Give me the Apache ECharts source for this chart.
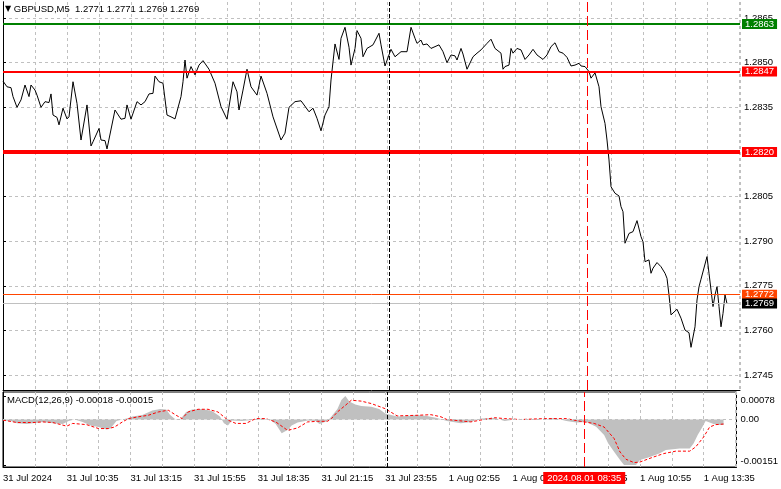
<!DOCTYPE html>
<html><head><meta charset="utf-8">
<script src="https://cdn.jsdelivr.net/npm/echarts@6/dist/echarts.min.js"></script>
<style>html,body{margin:0;padding:0;background:#fff}#c{width:781px;height:489px}</style>
</head><body><div id="c"></div>
<script>
// ---------------- data ----------------
const symbolName = 'GBPUSD,M5';
const ohlc = [1.2771, 1.2771, 1.2769, 1.2769];
const macdName = 'MACD(12,26,9)';
const macdLast = [-0.00018, -0.00015];
const timeLabels = ['31 Jul 2024','31 Jul 10:35','31 Jul 13:15','31 Jul 15:55','31 Jul 18:35','31 Jul 21:15','31 Jul 23:55','1 Aug 02:55','1 Aug 05:35','1 Aug 08:15','1 Aug 10:55','1 Aug 13:35'];
const priceTicks = [1.2745,1.2760,1.2775,1.2790,1.2805,1.2820,1.2835,1.2850,1.2865];
const macdTicks = [-0.00151, 0, 0.00078];
const levelValues = [1.2863, 1.2847, 1.2820, 1.2772, 1.2769];
const daySeparatorBar = 193;
const cursorBar = 292;
const cursorLabel = '2024.08.01 08:35';
// [bar index, close]
const closePrice = [
[0,1.28438],[2,1.28419],[4,1.28416],[5,1.28386],[7,1.28350],[9,1.28375],[11,1.28425],[13,1.28386],[14,1.28425],[16,1.28408],
[17,1.28391],[18,1.28395],[19,1.28350],[21,1.28369],[23,1.28366],[24,1.28395],[25,1.28324],[27,1.28316],[28,1.28291],[30,1.28347],
[32,1.28311],[33,1.28318],[35,1.28436],[37,1.28363],[39,1.28240],[42,1.28358],[44,1.28220],[45,1.28234],[48,1.28279],[49,1.28240],
[51,1.28238],[52,1.28210],[56,1.28341],[59,1.28310],[61,1.28313],[62,1.28358],[64,1.28310],[67,1.28369],[69,1.28358],[71,1.28369],
[73,1.28395],[75,1.28397],[76,1.28455],[78,1.28436],[80,1.28431],[82,1.28324],[84,1.28318],[86,1.28311],[89,1.28386],[90,1.28436],
[91,1.28509],[92,1.28448],[94,1.28487],[96,1.28459],[98,1.28492],[100,1.28507],[103,1.28478],[106,1.28431],[109,1.28352],[112,1.28310],
[115,1.28436],[117,1.28402],[118,1.28341],[120,1.28408],[122,1.28478],[124,1.28419],[127,1.28391],[129,1.28455],[132,1.28397],[135,1.28318],
[139,1.28240],[141,1.28263],[143,1.28350],[146,1.28369],[149,1.28372],[153,1.28335],[155,1.28347],[157,1.28313],[159,1.28271],[161,1.28324],
[163,1.28352],[164,1.28442],[166,1.28563],[168,1.28511],[169,1.28582],[171,1.28619],[173,1.28552],[174,1.28492],[176,1.28548],[177,1.28608],
[179,1.28582],[180,1.28520],[182,1.28548],[185,1.28560],[188,1.28599],[189,1.28560],[191,1.28489],[194,1.28545],[196,1.28520],[199,1.28537],
[200,1.28532],[202,1.28537],[204,1.28619],[206,1.28582],[207,1.28565],[209,1.28576],[210,1.28560],[212,1.28563],[214,1.28548],[215,1.28543],
[218,1.28560],[220,1.28537],[222,1.28500],[224,1.28526],[226,1.28523],[227,1.28509],[229,1.28548],[230,1.28529],[232,1.28478],[235,1.28520],
[237,1.28532],[239,1.28543],[242,1.28565],[244,1.28579],[246,1.28548],[249,1.28532],[250,1.28478],[251,1.28487],[253,1.28492],[254,1.28548],
[255,1.28532],[257,1.28548],[259,1.28543],[261,1.28511],[263,1.28526],[265,1.28545],[267,1.28526],[268,1.28532],[270,1.28511],[272,1.28526],
[274,1.28554],[276,1.28567],[278,1.28537],[280,1.28532],[282,1.28518],[284,1.28489],[286,1.28492],[288,1.28498],[289,1.28489],[291,1.28487],
[293,1.28470],[294,1.28448],[296,1.28466],[298,1.28419],[299,1.28352],[301,1.28296],[302,1.28240],[303,1.28173],[304,1.28083],[305,1.28072],
[306,1.28061],[308,1.28052],[309,1.28016],[310,1.27999],[311,1.27893],[313,1.27926],[314,1.27921],[315,1.27932],[316,1.27926],[317,1.27969],
[319,1.27915],[320,1.27898],[321,1.27831],[323,1.27837],[324,1.27792],[325,1.27809],[327,1.27828],[329,1.27814],[331,1.27792],[332,1.27775],
[333,1.27719],[334,1.27652],[337,1.27671],[339,1.27641],[341,1.27601],[343,1.27592],[344,1.27543],[346,1.27612],[347,1.27702],[348,1.27747],
[349,1.27772],[350,1.27769],[352,1.27848],[353,1.27792],[355,1.27680],[356,1.27719],[357,1.27747],[358,1.27680],[359,1.27612],[360,1.27657],
[361,1.27719],[362,1.27690]
];
// [bar index, MACD main (histogram)]
const macdMain = [
[0,-0.00003],[1,-0.00005],[4,-0.00005],[7,-0.00012],[12,-0.00015],[15,-0.00012],[20,-0.00008],[25,-0.00012],[30,-0.00015],[33,-0.00005],
[36,0],[40,-0.00008],[44,-0.0002],[48,-0.00025],[52,-0.00033],[54,-0.0003],[57,-0.00005],[60,0],[63,0.00005],[65,0.0001],
[70,0.00015],[75,0.0003],[79,0.00035],[82,0.00033],[84,0.00015],[87,-0.00002],[89,0],[92,0.00025],[95,0.00033],[100,0.00035],
[105,0.00028],[109,0.0001],[111,-0.00012],[113,-0.0002],[115,-0.00003],[120,-0.00005],[125,-0.00002],[130,0.00003],[134,0],[137,-0.00015],
[140,-0.00046],[143,-0.00035],[145,-0.0002],[148,-0.0001],[153,-0.00003],[157,-0.00005],[159,-0.00015],[163,-0.00005],[165,0.0001],[168,0.00035],
[170,0.00065],[172,0.00078],[174,0.0006],[177,0.0005],[180,0.00045],[185,0.00042],[189,0.00035],[192,0.0002],[195,0.00015],[198,0.0001],
[203,0.00012],[208,0.00015],[213,0.00012],[218,0.00005],[223,-0.00005],[230,-0.00012],[235,-0.00008],[240,0.00003],[247,0.00005],[252,-0.00005],
[257,0],[263,0.00002],[272,0],[277,0.00005],[283,-0.00005],[288,-0.0001],[293,-0.00008],[298,-0.00024],[302,-0.00051],[304,-0.00079],
[307,-0.00107],[310,-0.00134],[312,-0.00151],[318,-0.00151],[320,-0.00134],[325,-0.00124],[330,-0.00112],[333,-0.00101],[340,-0.00096],[345,-0.00096],
[347,-0.00079],[349,-0.00051],[351,-0.00029],[353,-0.00005],[357,-0.00015],[360,-0.00018],[362,-0.00018]
];
// [bar index, signal]
const macdSignal = [
[0,-0.00002],[7,-0.0001],[15,-0.0001],[20,-0.00008],[25,-0.0001],[32,-0.00022],[35,-0.00013],[42,-0.00017],[48,-0.0003],[53,-0.0003],
[56,-0.00025],[60,-0.00008],[63,0.00003],[68,0.00009],[73,0.00014],[78,0.00025],[83,0.00031],[87,0.00014],[90,0.00003],[93,0.00025],
[98,0.00034],[103,0.00034],[108,0.00025],[113,-0.00002],[117,-0.00013],[122,-0.00013],[127,0.00003],[132,0.00003],[137,-0.00008],[143,-0.00036],
[148,-0.00028],[153,-0.00008],[158,-0.00006],[163,-0.00006],[165,0.00003],[168,0.00025],[172,0.00047],[175,0.00064],[180,0.00061],[185,0.00053],
[192,0.00036],[198,0.00012],[208,0.00014],[215,0.00016],[220,0.00009],[223,0],[235,-0.00008],[240,-0.00002],[247,0.00006],[252,0.00003],
[260,0],[272,0.00003],[283,0.00003],[290,-0.00006],[297,-0.00013],[302,-0.00025],[307,-0.00063],[310,-0.00108],[313,-0.00132],[317,-0.00143],
[320,-0.00141],[327,-0.00124],[332,-0.00113],[338,-0.00105],[345,-0.00105],[348,-0.00091],[352,-0.00058],[355,-0.00025],[358,-0.00017],[362,-0.00015]
];

// ---------------- chart ----------------
const F = 'Liberation Sans';
const FS = 9.5;
const gridDash = {color:'#c0c0c0', type:[3,3], width:1};
const levelStyles = [
  {line:{color:'#008000', width:2}, bg:'#008000', fg:'#fff'},
  {line:{color:'#ff0000', width:2}, bg:'#ff0000', fg:'#fff'},
  {line:{color:'#ff0000', width:4}, bg:'#ff0000', fg:'#fff'},
  {line:{color:'#ff4500', width:1}, bg:'#ff4500', fg:'#fff'},
  {line:{color:'#c0c0c0', width:1}, bg:'#000000', fg:'#fff'}
];
const levelMarks = levelValues.map((v,k)=>({
  yAxis: v,
  lineStyle: Object.assign({type:'solid'}, levelStyles[k].line),
  label: {show:true, position:'end', distance:2, formatter: v.toFixed(4),
    backgroundColor: levelStyles[k].bg, color: levelStyles[k].fg,
    padding:[0,3,0,3], lineHeight:10, fontSize:FS, fontFamily:F}
}));
const vSep = {xAxis: daySeparatorBar, lineStyle:{color:'#000', type:[4,2], width:1}, label:{show:false}};
const vCursorMain = {xAxis: cursorBar, lineStyle:{color:'#ff0000', type:[10,4], width:1}, label:{show:false}};
const vCursorMacd = {xAxis: cursorBar, lineStyle:{color:'#ff0000', type:[10,4], width:1},
  label:{show:true, position:'start', distance:5, formatter: cursorLabel, backgroundColor:'#ff0000',
    color:'#fff', padding:[1,4,1,4], fontSize:FS, fontFamily:F}};
const zeroLine = {yAxis: 0, lineStyle:{color:'#c0c0c0', type:[3,3], width:1}, label:{show:false}};

const macdMin = macdTicks[0], macdMax = macdTicks[2];
const chart = echarts.init(document.getElementById('c'), null, {renderer:'canvas'});
chart.setOption({
  animation:false,
  backgroundColor:'#fff',
  textStyle:{fontFamily:F},
  title:[
    {text:'{tri|▼} ' + symbolName + '  ' + ohlc.map(v=>v.toFixed(4)).join(' '), left:5, top:4, padding:0,
     textStyle:{fontSize:FS, fontWeight:'normal', color:'#000', fontFamily:F, rich:{tri:{fontSize:8, color:'#000', fontFamily:'DejaVu Sans'}}}},
    {text: macdName + ' ' + macdLast.map(v=>v.toFixed(5)).join(' '), left:7, top:395, padding:0,
     textStyle:{fontSize:FS, fontWeight:'normal', color:'#000', fontFamily:F}}
  ],
  grid:[
    {left:3, right:41, top:2, height:388},
    {left:3, right:41, top:392, height:75, show:true, borderColor:'#000', borderWidth:1}
  ],
  xAxis:[
    {type:'value', gridIndex:0, min:0, max:368.5, interval:16,
     axisLine:{show:true, onZero:false, lineStyle:{color:'#000'}}, axisTick:{show:false}, axisLabel:{show:false},
     splitLine:{show:true, lineStyle:gridDash}},
    {type:'value', gridIndex:1, min:0, max:368.5, interval:16,
     axisLine:{show:true, onZero:false, lineStyle:{color:'#000'}}, axisTick:{show:false},
     axisLabel:{show:true, align:'left', margin:6, color:'#000', fontSize:FS, fontFamily:F,
       showMaxLabel:false,
       formatter:v => (v % 32 === 0 && timeLabels[v/32]) ? timeLabels[v/32] : ''},
     splitLine:{show:true, lineStyle:gridDash}}
  ],
  yAxis:[
    {type:'value', gridIndex:0, position:'right', min:1.273995, max:1.287041, scale:true,
     axisLine:{show:true, lineStyle:{color:'#000'}},
     axisTick:{show:true, length:3, customValues:priceTicks, lineStyle:{color:'#000'}},
     axisLabel:{show:true, customValues:priceTicks, margin:4, color:'#000', fontSize:FS, fontFamily:F,
       formatter:v=>v.toFixed(4)},
     splitLine:{show:true, lineStyle:gridDash}},
    {type:'value', gridIndex:0, position:'left', min:1.273995, max:1.287041, scale:true,
     axisLine:{show:true, lineStyle:{color:'#000'}}, axisTick:{show:false}, axisLabel:{show:false}, splitLine:{show:false}},
    {type:'value', gridIndex:1, position:'right', min:-0.001576, max:0.000913,
     axisLine:{show:true, lineStyle:{color:'#000'}},
     axisTick:{show:true, length:3, customValues:macdTicks, lineStyle:{color:'#000'}},
     axisLabel:{show:true, customValues:macdTicks, margin:4, color:'#000', fontSize:FS, fontFamily:F,
       formatter:v => v === macdMax ? '{top|' + v.toFixed(5) + '}' : (v === macdMin ? '{bot|' + v.toFixed(5) + '}' : '0.00'),
       rich:{top:{padding:[8,0,0,0], fontSize:FS, fontFamily:F, color:'#000'}, bot:{padding:[0,0,8,0], fontSize:FS, fontFamily:F, color:'#000'}}},
     splitLine:{show:false}}
  ],
  series:[
    {type:'line', name:'close', xAxisIndex:0, yAxisIndex:0, data:closePrice, symbol:'none',
     lineStyle:{color:'#000', width:1}, itemStyle:{color:'#000'}, z:3,
     markLine:{silent:true, precision:6, symbol:['none','none'], animation:false, data: levelMarks.concat([vSep, vCursorMain])}},
    {type:'line', name:'macd', xAxisIndex:1, yAxisIndex:2, data:macdMain, symbol:'none',
     lineStyle:{width:0, color:'#c0c0c0'}, itemStyle:{color:'#c0c0c0'}, areaStyle:{color:'#c0c0c0', opacity:1}, z:2},
    {type:'line', name:'signal', xAxisIndex:1, yAxisIndex:2, data:macdSignal, symbol:'none',
     lineStyle:{color:'#ff0000', width:1, type:[3,2]}, itemStyle:{color:'#ff0000'}, z:3,
     markLine:{silent:true, precision:6, symbol:['none','none'], animation:false, data:[zeroLine, vSep, vCursorMacd]}}
  ]
});
</script></body></html>
